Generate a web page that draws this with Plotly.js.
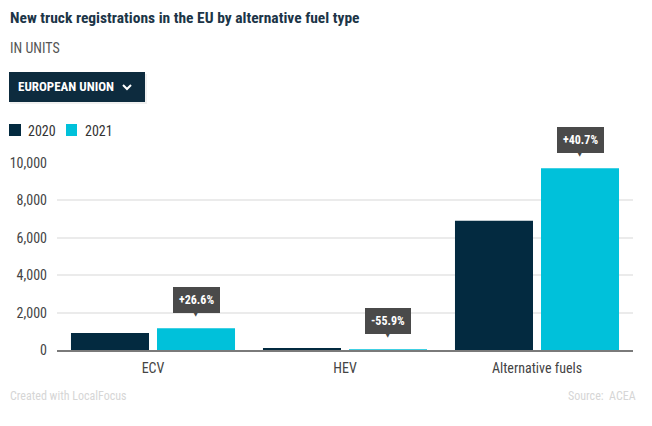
<!DOCTYPE html>
<html>
<head>
<meta charset="utf-8">
<script src="https://cdn.plot.ly/plotly-3.0.1.min.js"></script>
<style>
html,body{margin:0;padding:0;background:#fff;}
#chart{width:652px;height:426px;}
</style>
</head>
<body>
<div id="chart"></div>
<script>
const categories = ["ECV", "HEV", "Alternative fuels"];
const values2020 = [914, 102, 6911];
const values2021 = [1157, 45, 9724];
const changeLabels = ["+26.6%", "-55.9%", "+40.7%"];
const seriesNames = ["2020", "2021"];
const yTickVals = [0, 2000, 4000, 6000, 8000, 10000];
const yTickText = ["0", "2,000", "4,000", "6,000", "8,000", "10,000"];

const FONT = "'Roboto Condensed', 'Liberation Sans Narrow', Roboto, sans-serif";
const dark = "#032a40";
const cyan = "#00c1da";

// plot area geometry (pixels)
const L = 57, R = 633, T = 163, B = 350;
const W = 652, H = 426;
const PW = R - L, PH = B - T;
const px = x => (x - L) / PW;
const py = y => (B - y) / PH;

const traces = [
  {type: "bar", name: seriesNames[0], x: categories, y: values2020, marker: {color: dark}, hoverinfo: "none"},
  {type: "bar", name: seriesNames[1], x: categories, y: values2021, marker: {color: cyan}, hoverinfo: "none"}
];

const annotations = [];
categories.forEach((c, i) => {
  annotations.push({
    x: c, y: values2021[i], xref: "x", yref: "y", xshift: 43, yshift: 28,
    text: "<b>" + changeLabels[i] + "</b>", showarrow: false,
    font: {family: FONT, size: 12, color: "#fff"},
    bgcolor: "#4a4a4a", borderpad: 5, bordercolor: "#4a4a4a", borderwidth: 1
  });
  annotations.push({
    x: c, y: values2021[i], xref: "x", yref: "y", xshift: 43, yshift: 14,
    text: "▼", showarrow: false,
    font: {family: "DejaVu Sans", size: 7, color: "#4a4a4a"}
  });
});

annotations.push(
  {xref: "paper", yref: "paper", x: px(8), y: py(18), xanchor: "left", yanchor: "middle", showarrow: false,
   text: "<b>New truck registrations in the EU by alternative fuel type</b>", font: {family: FONT, size: 15.5, color: "#1c3547"}},
  {xref: "paper", yref: "paper", x: px(8), y: py(48), xanchor: "left", yanchor: "middle", showarrow: false,
   text: "IN UNITS", font: {family: FONT, size: 14, color: "#555"}},
  {xref: "paper", yref: "paper", x: px(16), y: py(87), xanchor: "left", yanchor: "middle", showarrow: false,
   text: "<b>EUROPEAN UNION</b>", font: {family: FONT, size: 13, color: "#fff"}},
  {xref: "paper", yref: "paper", x: px(26), y: py(131), xanchor: "left", yanchor: "middle", showarrow: false,
   text: seriesNames[0], font: {family: FONT, size: 14, color: "#333"}},
  {xref: "paper", yref: "paper", x: px(83), y: py(131), xanchor: "left", yanchor: "middle", showarrow: false,
   text: seriesNames[1], font: {family: FONT, size: 14, color: "#333"}},
  {xref: "paper", yref: "paper", x: px(8), y: py(396), xanchor: "left", yanchor: "middle", showarrow: false,
   text: "Created with LocalFocus", font: {family: FONT, size: 12, color: "#d6d6d6"}},
  {xref: "paper", yref: "paper", x: px(638), y: py(396), xanchor: "right", yanchor: "middle", showarrow: false,
   text: "Source:  ACEA", font: {family: FONT, size: 12, color: "#d6d6d6"}}
);

const chevron = "M " + px(123) + "," + py(85) + " L " + px(127) + "," + py(89) + " L " + px(131) + "," + py(85);

const layout = {
  width: W, height: H,
  margin: {l: L, r: W - R, t: T, b: H - B, pad: 0, autoexpand: false},
  paper_bgcolor: "#fff", plot_bgcolor: "#fff",
  font: {family: FONT, size: 14, color: "#444"},
  barmode: "group", bargap: 0.104, bargroupgap: 0.093,
  showlegend: false,
  xaxis: {type: "category", showgrid: false, showline: true, linecolor: "#7a7a7a", linewidth: 2,
          ticks: "", ticklabelstandoff: 4, tickfont: {family: FONT, size: 14, color: "#444"}, fixedrange: true},
  yaxis: {range: [0, 10000], tickvals: yTickVals, ticktext: yTickText, showgrid: true, gridcolor: "#ebebeb",
          gridwidth: 2, zeroline: false, showline: false, ticks: "", ticklabelstandoff: 9,
          tickfont: {family: FONT, size: 14, color: "#444"}, fixedrange: true},
  shapes: [
    {type: "rect", xref: "paper", yref: "paper", x0: px(10), x1: px(147), y0: py(104), y1: py(74),
     fillcolor: "#e6e6e6", line: {width: 0}, layer: "below", opacity: 0.6},
    {type: "rect", xref: "paper", yref: "paper", x0: px(9), x1: px(145), y0: py(102), y1: py(72),
     fillcolor: "#0d2b3e", line: {width: 0}, layer: "below"},
    {type: "path", xref: "paper", yref: "paper", path: chevron, line: {color: "#fff", width: 2}},
    {type: "rect", xref: "paper", yref: "paper", x0: px(9), x1: px(21), y0: py(136), y1: py(124),
     fillcolor: dark, line: {width: 0}, layer: "below"},
    {type: "rect", xref: "paper", yref: "paper", x0: px(66), x1: px(77), y0: py(136), y1: py(124),
     fillcolor: cyan, line: {width: 0}, layer: "below"}
  ],
  annotations: annotations
};

Plotly.newPlot("chart", traces, layout, {displayModeBar: false, staticPlot: true});
</script>
</body>
</html>
